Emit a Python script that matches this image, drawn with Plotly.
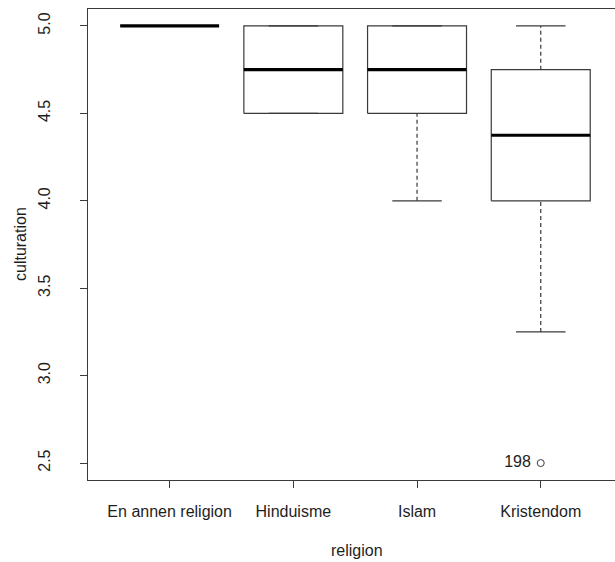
import plotly.graph_objects as go

categories = ["En annen religion", "Hinduisme", "Islam", "Kristendom"]
lower_whisker = [5.0, 4.5, 4.0, 3.25]
q1 = [5.0, 4.5, 4.5, 4.0]
median = [5.0, 4.75, 4.75, 4.375]
q3 = [5.0, 5.0, 5.0, 4.75]
upper_whisker = [5.0, 5.0, 5.0, 5.0]
outlier_group = ["Kristendom"]
outlier_y = [2.5]
outlier_labels = ["198"]
y_ticks = [2.5, 3.0, 3.5, 4.0, 4.5, 5.0]

BOX_HALF = 0.4
CAP_HALF = 0.2
LINE_COLOR = "#3a3a3a"
TEXT_COLOR = "#1e1e1e"
FONT = "Liberation Sans, Arial, sans-serif"
FS = 16

pos = {c: i + 1 for i, c in enumerate(categories)}

box_x, box_y = [], []
wh_x, wh_y = [], []
cap_x, cap_y = [], []
med_x, med_y = [], []
for c, lw, a, m, b, uw in zip(categories, lower_whisker, q1, median, q3, upper_whisker):
    p = pos[c]
    if b > a:
        box_x += [p - BOX_HALF, p + BOX_HALF, p + BOX_HALF, p - BOX_HALF, p - BOX_HALF, None]
        box_y += [a, a, b, b, a, None]
    if lw < a:
        wh_x += [p, p, None]
        wh_y += [lw, a, None]
    if uw > b:
        wh_x += [p, p, None]
        wh_y += [b, uw, None]
    if b > a:
        cap_x += [p - CAP_HALF, p + CAP_HALF, None, p - CAP_HALF, p + CAP_HALF, None]
        cap_y += [lw, lw, None, uw, uw, None]
    med_x += [p - BOX_HALF, p + BOX_HALF, None]
    med_y += [m, m, None]

fig = go.Figure()
fig.add_trace(go.Scatter(x=wh_x, y=wh_y, mode="lines",
                         line=dict(color=LINE_COLOR, width=1.2, dash="4px,3px"),
                         hoverinfo="skip", showlegend=False))
fig.add_trace(go.Scatter(x=cap_x, y=cap_y, mode="lines",
                         line=dict(color=LINE_COLOR, width=1.2),
                         hoverinfo="skip", showlegend=False))
fig.add_trace(go.Scatter(x=box_x, y=box_y, mode="lines",
                         line=dict(color=LINE_COLOR, width=1.2),
                         hoverinfo="skip", showlegend=False))
fig.add_trace(go.Scatter(x=med_x, y=med_y, mode="lines",
                         line=dict(color="black", width=3.2),
                         hoverinfo="skip", showlegend=False))
fig.add_trace(go.Scatter(x=[pos[g] for g in outlier_group], y=outlier_y, mode="markers",
                         marker=dict(symbol="circle-open", size=7, color=LINE_COLOR,
                                     line=dict(color=LINE_COLOR, width=1)),
                         showlegend=False))
fig.add_trace(go.Scatter(x=[pos[g] - 0.08 for g in outlier_group], y=outlier_y, mode="text",
                         text=outlier_labels, textposition="middle left",
                         textfont=dict(family=FONT, size=FS, color=TEXT_COLOR),
                         hoverinfo="skip", showlegend=False))

W, H = 615, 562
ml, mr, mt, mb = 88, 0, 9, 82
unit = 123.7
fig.update_layout(
    width=W, height=H,
    margin=dict(l=ml, r=mr, t=mt, b=mb),
    paper_bgcolor="white", plot_bgcolor="white",
    font=dict(family=FONT, size=FS, color=TEXT_COLOR),
    xaxis=dict(range=[0.34, 0.34 + (W - ml - mr) / unit],
               tickvals=[pos[c] for c in categories], ticktext=categories,
               showgrid=False, zeroline=False,
               showline=True, mirror=True, linecolor=LINE_COLOR, linewidth=1.2,
               ticks="outside", ticklen=7, tickcolor=LINE_COLOR, tickwidth=1.2,
               ticklabelstandoff=10),
    yaxis=dict(range=[2.403, 5.097], tickvals=y_ticks,
               ticktext=[f"{v:.1f}" for v in y_ticks],
               tickangle=-90,
               showgrid=False, zeroline=False,
               showline=True, linecolor=LINE_COLOR, linewidth=1.2,
               ticks="outside", ticklen=7, tickcolor=LINE_COLOR, tickwidth=1.2,
               ticklabelstandoff=24),
    annotations=[
        dict(text="religion", xref="paper", yref="paper",
             x=(357 - ml) / (W - ml - mr), y=(480 - 550) / (562 - mt - mb),
             showarrow=False, xanchor="center", yanchor="middle",
             font=dict(family=FONT, size=FS, color=TEXT_COLOR)),
        dict(text="culturation", xref="paper", yref="paper",
             x=(20 - ml) / (W - ml - mr), y=(480 - 244) / (562 - mt - mb),
             showarrow=False, xanchor="center", yanchor="middle", textangle=-90,
             font=dict(family=FONT, size=FS, color=TEXT_COLOR)),
    ],
)

fig.write_html("out.html", config={"displayModeBar": False},
               post_script="document.body.style.margin='0';document.body.style.overflow='hidden';")
